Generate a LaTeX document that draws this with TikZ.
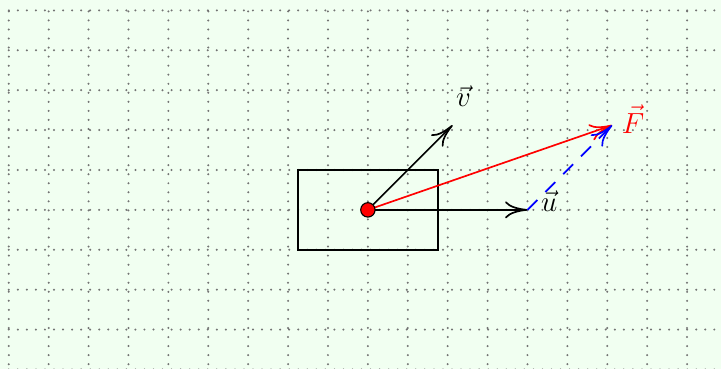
\documentclass[tikz,border=0pt]{standalone}
\usetikzlibrary{calc, arrows.meta}
\definecolor{mintbg}{RGB}{241,255,241}
\tikzset{
  grid line/.style={gray!90!black, line width=1.6pt, line cap=round, dash pattern=on 0pt off 6.45pt},
  body box/.style={draw, line width=1.2pt, minimum width=3.5cm, minimum height=2cm, inner sep=0pt},
  vector line/.style={line width=1.2pt, black, -{To[length=16pt,width=12pt]}},
  resultant line/.style={line width=1.2pt, red, -{To[length=16pt,width=12pt]}},
  sum line/.style={line width=1.2pt, blue, dash pattern=on 10pt off 8pt, -{To[length=16pt,width=12pt]}},
  point dot/.style={circle, draw=black, fill=red, line width=0.8pt, minimum size=0.36cm, inner sep=0pt},
  vector label/.style={font=\huge, inner sep=1pt},
}

\begin{document}
\begin{tikzpicture}
  \useasboundingbox (-9.22,-3.98) rectangle (8.85,5.26);
  \fill[mintbg] (-9.22,-3.98) rectangle (8.85,5.26);
  \clip (-9.22,-3.98) rectangle (8.85,5.26);
  \draw[grid line] (-9,-5) grid (9,5);
  % body and forces
  \coordinate (O) at (0,0);
  \coordinate (U) at (4,0);
  \coordinate (V) at (45:3);
  \coordinate (F) at ($(U)+(V)$);
  \node[body box] (box) at (O) {};
  \draw[vector line] (O) -- (U);
  \draw[vector line] (O) -- (V);
  \draw[resultant line] (O) -- (F);
  \draw[sum line] (U) -- (F);
  \node[point dot] (pt) at (O) {};
  \node[vector label, anchor=base west] (ulabel) at ($(U)+(0.3,-0.05)$) {$\vec{u}$};
  \node[vector label, anchor=base] (vlabel) at (2.4,2.6) {$\vec{v}$};
  \node[vector label, anchor=base west, red] (flabel) at ($(F)+(0.2,-0.2)$) {$\vec{F}$};
\end{tikzpicture}
\end{document}
